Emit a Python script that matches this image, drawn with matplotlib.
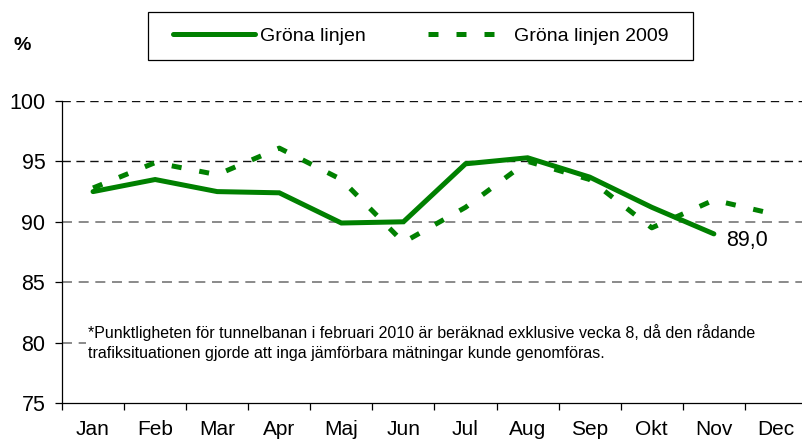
import numpy as np
import matplotlib.pyplot as plt
from matplotlib.lines import Line2D
from matplotlib.patches import Rectangle

plt.rcParams['font.family'] = ['Liberation Sans', 'DejaVu Sans']

months = ["Jan", "Feb", "Mar", "Apr", "Maj", "Jun", "Jul", "Aug", "Sep", "Okt", "Nov", "Dec"]
grona_2010 = [92.5, 93.5, 92.5, 92.4, 89.9, 90.0, 94.8, 95.3, 93.7, 91.2, 89.0]
grona_2009 = [92.8, 94.9, 93.9, 96.1, 93.5, 88.3, 91.2, 95.0, 93.5, 89.5, 91.8, 90.6]
note = ("*Punktligheten för tunnelbanan i februari 2010 är beräknad exklusive vecka 8, då den rådande\n"
        "trafiksituationen gjorde att inga jämförbara mätningar kunde genomföras.")

GREEN = "#008000"
DASH = (0, (2.0, 3.6))
W, H = 803, 443
fig = plt.figure(figsize=(W / 100, H / 100), dpi=100)
ax = fig.add_axes([62 / W, (H - 403) / H, 745 / W, 302 / H])

x = np.arange(len(months))
ax.plot(x[:len(grona_2010)], grona_2010, color=GREEN, lw=3.6, solid_joinstyle='miter',
        solid_capstyle='round', zorder=3)
ax.plot(x, grona_2009, color=GREEN, lw=3.6, linestyle=DASH,
        dash_capstyle='butt', zorder=2)

ax.set_xlim(-0.5, 11.5)
ax.set_ylim(75, 100)
ax.set_yticks([75, 80, 85, 90, 95, 100])
# grid: upper lines dark, lower ones grey; 80 is hidden behind the note
ax.axhline(100, color='#111111', lw=1, linestyle=(0, (6, 4)), zorder=1)
ax.axhline(95, color='#111111', lw=1, linestyle=(0, (6, 4)), zorder=1)
ax.axhline(90, color='#777777', lw=1.2, linestyle=(0, (6, 4)), zorder=1)
ax.axhline(85, color='#777777', lw=1.2, linestyle=(0, (6, 4)), zorder=1)
ax.axhline(80, xmax=0.032, color='#777777', lw=1.2, linestyle=(0, (6, 4)), zorder=1)

ax.set_xticks(np.arange(-0.5, 12, 1))
ax.set_xticklabels([])
ax.set_xticks(x, minor=True)
ax.set_xticklabels(months, minor=True)
ax.tick_params(axis='x', which='minor', length=0, pad=12, labelsize=15)
ax.tick_params(axis='x', which='major', length=5, direction='out', width=0.9)
ax.tick_params(axis='y', length=5, direction='out', width=0.9, labelsize=15.5, pad=7)
for s in ['top', 'right']:
    ax.spines[s].set_visible(False)
for s in ['left', 'bottom']:
    ax.spines[s].set_linewidth(0.9)

ax.annotate("89,0", xy=(10, grona_2010[-1]), xytext=(9, -4.5), textcoords='offset points',
            fontsize=15.5, ha='left', va='center')

ax.text(-0.08, 80.0, note, fontsize=11.5, ha='left', va='center', linespacing=1.45, zorder=4)

fig.text(14 / W, 1 - 45 / H, "%", fontsize=14, fontweight='bold', ha='left', va='center')

# legend frame drawn separately so it can be wider than the entries
fig.patches.append(Rectangle((148 / W, 1 - 60 / H), 545 / W, 48 / H, transform=fig.transFigure,
                             facecolor='white', edgecolor='black', lw=0.9, zorder=0))
handles = [Line2D([], [], color=GREEN, lw=3.6, solid_capstyle='round'),
           Line2D([], [], color=GREEN, lw=3.6, linestyle=DASH, dash_capstyle='butt')]
leg = fig.legend(handles, ["Gröna linjen", "Gröna linjen 2009"], loc='center',
                 bbox_to_anchor=(421 / W, 1 - 36 / H), ncol=2, fontsize=14,
                 handlelength=4.2, handletextpad=0.25, columnspacing=3.2,
                 frameon=False, borderpad=0.2, borderaxespad=0)

fig.savefig("out.png", dpi=100)
